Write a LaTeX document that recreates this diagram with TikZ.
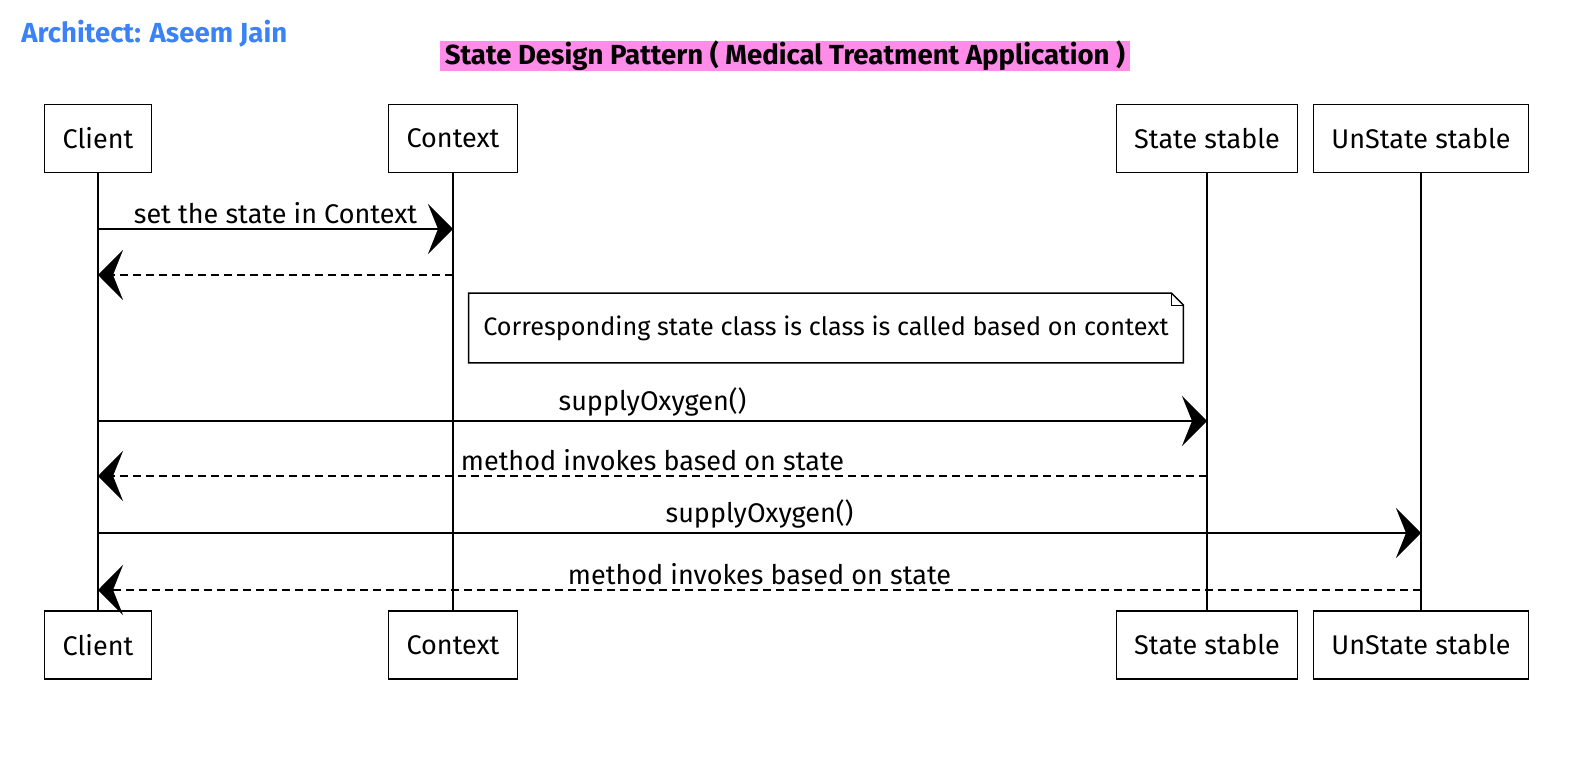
\documentclass[tikz,border=0pt]{standalone}
\usepackage{fontspec}
\setmainfont{Fira Sans}
\usepackage{tikz}
\usetikzlibrary{positioning}
\usetikzlibrary{arrows.meta}

\definecolor{archblue}{RGB}{59,130,246}
\definecolor{titlepink}{RGB}{255,140,232}

\tikzset{
  actor/.style={draw, line width=0.7pt, inner xsep=9pt, minimum height=34pt, font=\fontsize{13.5}{15}\selectfont},
  lifeline/.style={line width=0.55pt},
  call/.style={line width=0.85pt, -{Stealth[length=12.5pt,width=25pt,inset=5pt]}},
  reply/.style={call, dash pattern=on 4pt off 2.5pt},
  msg/.style={above, inner sep=2pt, font=\fontsize{13.5}{15}\selectfont},
  notebox/.style={minimum width=357pt, minimum height=34.5pt, inner sep=0pt, font=\fontsize{12.6}{15}\selectfont}
}

\begin{document}
\begin{tikzpicture}[x=0.5pt, y=-0.5pt]

\useasboundingbox (0,0) rectangle (1586,759);

\node[anchor=west, inner sep=0pt, text=archblue, font=\fontsize{13.8}{16}\selectfont\bfseries] (arch) at (21,34) {Architect: Aseem Jain};
\node[fill=titlepink, minimum width=345pt, minimum height=14pt, inner sep=0pt, font=\fontsize{13.8}{15}\selectfont\bfseries] (title) at (785,56) {State Design Pattern ( Medical Treatment Application )};

% participants
\node[actor] (client) at (98,138.5) {Client};
\node[actor] (context) at (453,138.5) {Context};
\node[actor] (stable) at (1207,138.5) {State stable};
\node[actor] (unstable) at (1421,138.5) {UnState stable};

\node[actor] (clientB) at (98,645) {Client};
\node[actor] (contextB) at (453,645) {Context};
\node[actor] (stableB) at (1207,645) {State stable};
\node[actor] (unstableB) at (1421,645) {UnState stable};

\draw[lifeline] (client) -- (clientB);
\draw[lifeline] (context) -- (contextB);
\draw[lifeline] (stable) -- (stableB);
\draw[lifeline] (unstable) -- (unstableB);

% message ends
\coordinate (cl1) at (98,229);   \coordinate (cx1) at (453,229);
\coordinate (cl2) at (98,275);   \coordinate (cx2) at (453,275);
\coordinate (cl3) at (98,421);   \coordinate (st3) at (1207,421);
\coordinate (cl4) at (98,476);   \coordinate (st4) at (1207,476);
\coordinate (cl5) at (98,533);   \coordinate (un5) at (1421,533);
\coordinate (cl6) at (98,590);   \coordinate (un6) at (1421,590);

\draw[call] (cl1) -- node[msg] (setmsg) {set the state in Context} (cx1);
\draw[reply] (cx2) -- (cl2);
\draw[call] (cl3) -- node[msg] (oxy1) {supplyOxygen()} (st3);
\draw[reply] (st4) -- node[msg] (inv1) {method invokes based on state} (cl4);
\draw[call] (cl5) -- node[msg] (oxy2) {supplyOxygen()} (un5);
\draw[reply] (un6) -- node[msg] (inv2) {method invokes based on state} (cl6);

% note
\node[notebox] (note) at (826,328) {Corresponding state class is class is called based on context};
\draw[line width=0.7pt] (note.north west) -- ([xshift=-6pt]note.north east) -- ([yshift=-6pt]note.north east)
  -- (note.south east) -- (note.south west) -- cycle;
\draw[line width=0.5pt] ([xshift=-6pt]note.north east) -- ([xshift=-6pt,yshift=-6pt]note.north east) -- ([yshift=-6pt]note.north east);

\end{tikzpicture}
\end{document}
